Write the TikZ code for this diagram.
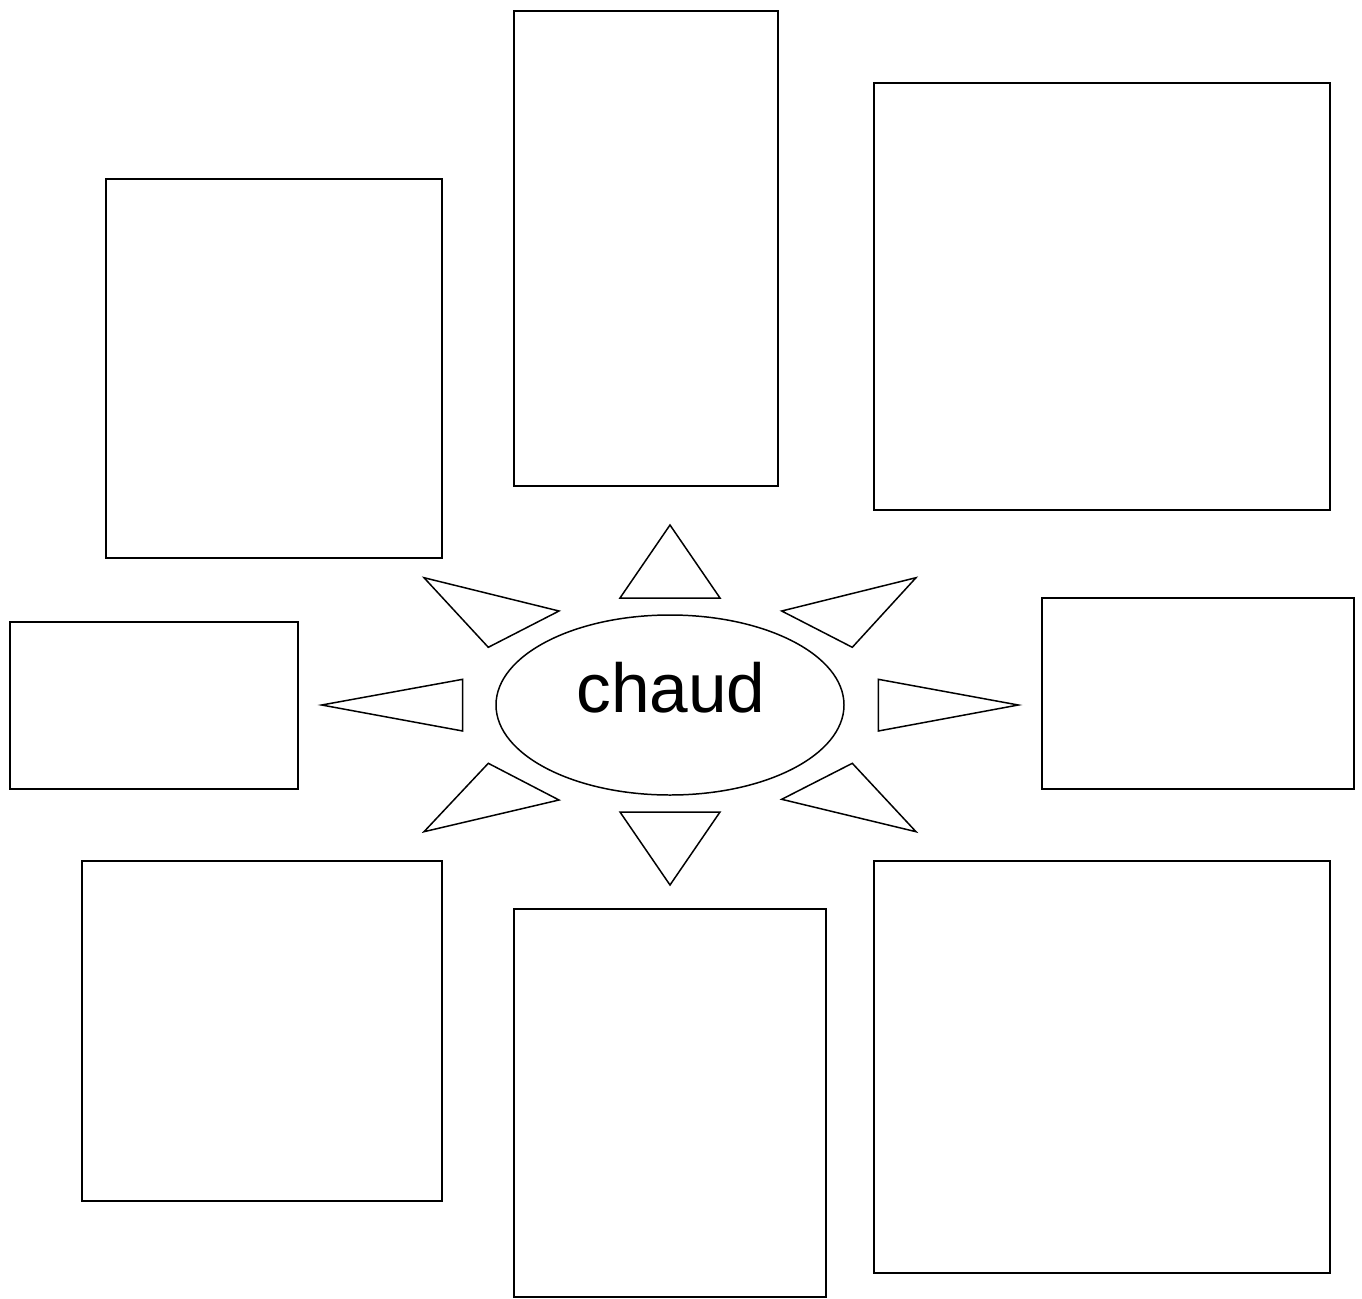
\documentclass[tikz,border=0pt]{standalone}
\usepackage{fontspec}
\setmainfont{Liberation Sans}
\begin{document}
\begin{tikzpicture}[x=0.02cm,y=-0.02cm,
  box/.style={draw=black,line width=0.85pt},
  ray/.style={draw=black,line width=0.85pt,line join=miter}]
\useasboundingbox (0,0) rectangle (1362,1298);
% boxes
\draw[box] (514,11) rectangle (778,486);
\draw[box] (874,83) rectangle (1330,510);
\draw[box] (106,179) rectangle (442,558);
\draw[box] (10,622) rectangle (298,789);
\draw[box] (1042,598) rectangle (1354,789);
\draw[box] (82,861) rectangle (442,1201);
\draw[box] (514,909) rectangle (826,1297);
\draw[box] (874,861) rectangle (1330,1273);
% center ellipse
\draw[box] (670,705) ellipse [x radius=174, y radius=90];
\node[anchor=base,inner sep=0pt,font=\fontsize{39.5}{47}\selectfont] (c) at (671,712) {chaud};
% rays
\draw[ray] (670,525) -- (720,598) -- (620,598) -- cycle;
\draw[ray] (670,885) -- (720,812) -- (620,812) -- cycle;
\draw[ray] (424,577.7) -- (559,611) -- (488.3,647.3) -- cycle;
\draw[ray] (916,577.7) -- (781.7,611) -- (852.3,647.3) -- cycle;
\draw[ray] (424,831.7) -- (559,800) -- (488.3,763.3) -- cycle;
\draw[ray] (916,831.7) -- (781.7,799.3) -- (852.3,763.3) -- cycle;
\draw[ray] (321.7,705) -- (462.7,679.3) -- (462.7,731) -- cycle;
\draw[ray] (1018.3,705) -- (878.3,679.3) -- (878.3,731) -- cycle;
\end{tikzpicture}
\end{document}
